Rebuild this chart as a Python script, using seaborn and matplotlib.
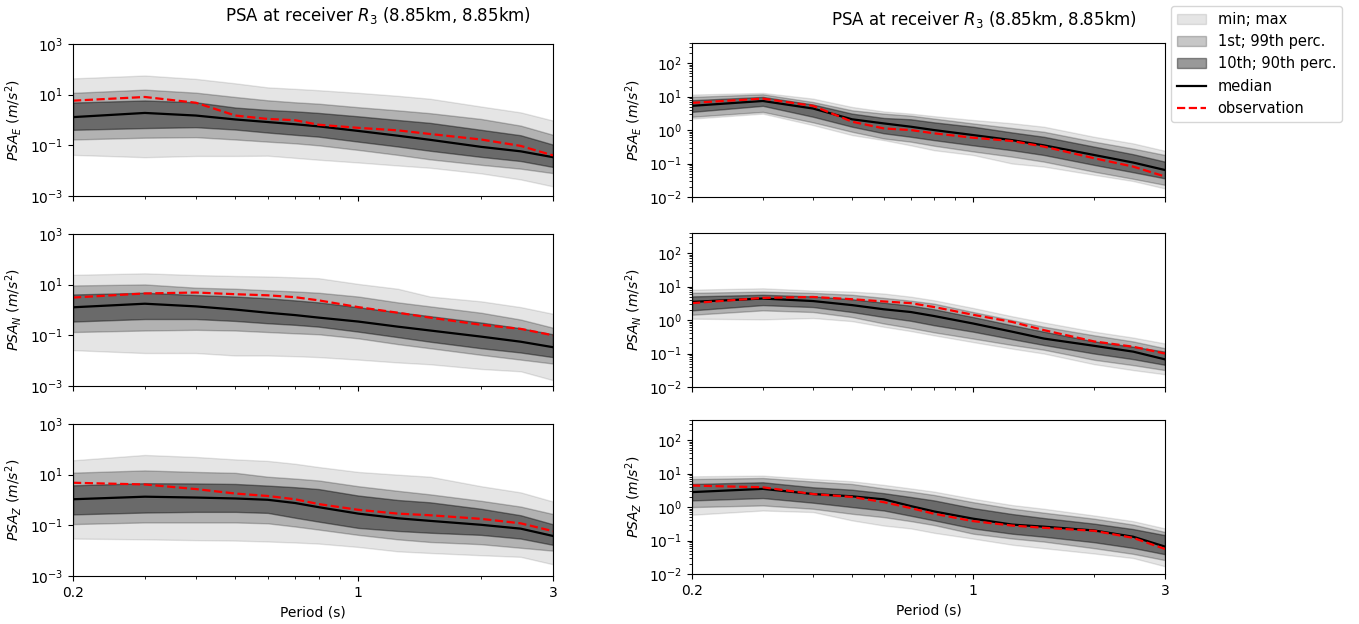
import matplotlib
matplotlib.use("Agg")
import matplotlib.pyplot as plt
import matplotlib.ticker as mticker
import numpy as np
import seaborn as sns

# periods (s) shared by every panel
period = [0.2, 0.3, 0.4, 0.5, 0.6, 0.7, 0.8, 1.0, 1.25, 1.5, 2.0, 2.5, 3.0]

# ---- left column ----
left_E_min = [0.042, 0.034, 0.038, 0.038, 0.039, 0.032, 0.027, 0.021, 0.016, 0.013, 0.0078, 0.0045, 0.0024]
left_E_max = [44, 57, 42, 28, 19.4, 17, 15, 11.8, 9, 6.9, 3.4, 2.0, 0.95]
left_E_p1 = [0.17, 0.20, 0.21, 0.17, 0.14, 0.12, 0.10, 0.066, 0.042, 0.028, 0.017, 0.012, 0.008]
left_E_p99 = [11.8, 15.8, 12, 8.1, 6, 5, 4.4, 3.2, 2.4, 1.86, 1.1, 0.6, 0.26]
left_E_p10 = [0.41, 0.48, 0.52, 0.42, 0.32, 0.26, 0.22, 0.14, 0.09, 0.061, 0.035, 0.024, 0.014]
left_E_p90 = [4.9, 5.9, 5.0, 3.1, 2.5, 2.2, 1.9, 1.4, 1.0, 0.77, 0.41, 0.25, 0.107]
left_E_median = [1.3, 1.9, 1.5, 1.05, 0.83, 0.68, 0.56, 0.37, 0.24, 0.165, 0.087, 0.058, 0.034]
left_E_obs = [5.8, 8.1, 4.8, 1.5, 1.1, 0.98, 0.65, 0.49, 0.39, 0.28, 0.17, 0.095, 0.04]

left_N_min = [0.026, 0.020, 0.020, 0.016, 0.016, 0.015, 0.0138, 0.011, 0.0085, 0.0072, 0.0047, 0.0038, 0.0017]
left_N_max = [24.5, 28, 24, 22, 21, 19.5, 18, 10.7, 6.9, 3.4, 2.2, 1.3, 0.71]
left_N_p1 = [0.135, 0.155, 0.165, 0.155, 0.135, 0.12, 0.11, 0.076, 0.045, 0.031, 0.017, 0.011, 0.0077]
left_N_p99 = [9.3, 10.2, 7.6, 6.9, 6.0, 5.4, 4.8, 3.4, 2.0, 1.39, 0.78, 0.42, 0.20]
left_N_p10 = [0.35, 0.44, 0.44, 0.37, 0.30, 0.26, 0.22, 0.14, 0.085, 0.056, 0.031, 0.021, 0.0138]
left_N_p90 = [4.1, 4.8, 3.9, 3.4, 2.9, 2.4, 2.0, 1.28, 0.82, 0.57, 0.32, 0.19, 0.11]
left_N_median = [1.28, 1.77, 1.39, 1.04, 0.78, 0.63, 0.50, 0.35, 0.22, 0.155, 0.089, 0.056, 0.034]
left_N_obs = [3.1, 4.5, 4.9, 4.2, 3.8, 3.2, 2.4, 1.3, 0.78, 0.50, 0.26, 0.18, 0.10]

left_Z_min = [0.030, 0.028, 0.026, 0.025, 0.023, 0.021, 0.019, 0.014, 0.0094, 0.0081, 0.0066, 0.0057, 0.0029]
left_Z_max = [37, 60, 50, 40, 35, 27, 20, 12.8, 10, 8.3, 3.5, 2.0, 0.87]
left_Z_p1 = [0.112, 0.13, 0.13, 0.13, 0.12, 0.09, 0.068, 0.042, 0.028, 0.022, 0.018, 0.013, 0.010]
left_Z_p99 = [12, 14.7, 12.8, 11.8, 8.3, 7, 5.9, 3.5, 2.3, 1.67, 0.93, 0.55, 0.28]
left_Z_p10 = [0.27, 0.32, 0.34, 0.34, 0.31, 0.2, 0.14, 0.079, 0.06, 0.051, 0.042, 0.03, 0.017]
left_Z_p90 = [3.8, 4.6, 4.5, 4.3, 3.7, 3.2, 2.7, 1.5, 1.0, 0.81, 0.45, 0.25, 0.11]
left_Z_median = [1.07, 1.35, 1.25, 1.15, 1.02, 0.76, 0.52, 0.29, 0.19, 0.15, 0.105, 0.074, 0.038]
left_Z_obs = [4.8, 4.1, 2.7, 1.8, 1.44, 1.07, 0.69, 0.41, 0.29, 0.25, 0.18, 0.12, 0.059]

# ---- right column ----
right_E_min = [2.2, 3.1, 1.41, 0.71, 0.50, 0.35, 0.25, 0.18, 0.1, 0.081, 0.046, 0.03, 0.018]
right_E_max = [11.5, 12.9, 8.7, 4.9, 3.6, 3.1, 2.6, 2.0, 1.6, 1.26, 0.63, 0.4, 0.24]
right_E_p1 = [2.5, 3.5, 1.7, 0.89, 0.56, 0.45, 0.34, 0.23, 0.16, 0.114, 0.057, 0.035, 0.023]
right_E_p99 = [9.8, 11.7, 6.9, 3.9, 3.1, 2.7, 2.2, 1.58, 1.15, 0.89, 0.45, 0.28, 0.18]
right_E_p10 = [3.5, 5.3, 2.5, 1.26, 0.8, 0.63, 0.5, 0.35, 0.25, 0.18, 0.091, 0.055, 0.036]
right_E_p90 = [7.8, 9.8, 5.8, 3.1, 2.3, 2.1, 1.7, 1.26, 0.85, 0.63, 0.32, 0.19, 0.114]
right_E_median = [5.3, 7.4, 4.4, 2.1, 1.58, 1.26, 1.0, 0.71, 0.50, 0.35, 0.18, 0.107, 0.064]
right_E_obs = [6.5, 8.7, 5.3, 1.78, 1.12, 1.0, 0.8, 0.59, 0.47, 0.32, 0.144, 0.081, 0.041]

right_N_min = [1.1, 1.05, 1.15, 0.93, 0.63, 0.47, 0.35, 0.22, 0.14, 0.10, 0.048, 0.032, 0.024]
right_N_max = [8.1, 8.9, 7.6, 7.1, 6.2, 5.0, 3.9, 2.3, 1.3, 0.85, 0.45, 0.3, 0.20]
right_N_p1 = [1.44, 1.95, 1.74, 1.23, 0.79, 0.58, 0.43, 0.28, 0.18, 0.13, 0.065, 0.045, 0.032]
right_N_p99 = [6.5, 7.1, 6.5, 5.7, 4.6, 3.8, 3.1, 1.74, 1.0, 0.63, 0.35, 0.23, 0.144]
right_N_p10 = [1.95, 2.8, 2.45, 1.74, 1.23, 0.95, 0.70, 0.45, 0.27, 0.18, 0.10, 0.068, 0.046]
right_N_p90 = [5.1, 5.7, 5.1, 4.2, 3.3, 2.7, 2.1, 1.23, 0.7, 0.45, 0.23, 0.16, 0.114]
right_N_median = [3.5, 4.4, 3.7, 2.8, 2.1, 1.74, 1.32, 0.79, 0.45, 0.28, 0.17, 0.114, 0.067]
right_N_obs = [3.2, 4.6, 4.9, 4.2, 3.6, 3.2, 2.45, 1.44, 0.88, 0.50, 0.23, 0.16, 0.10]

right_Z_min = [0.59, 0.79, 0.71, 0.40, 0.28, 0.23, 0.17, 0.114, 0.075, 0.059, 0.041, 0.03, 0.017]
right_Z_max = [8.3, 8.7, 6.9, 5.9, 4.6, 3.6, 2.9, 1.77, 1.15, 0.89, 0.56, 0.38, 0.23]
right_Z_p1 = [1.0, 1.12, 0.89, 0.63, 0.50, 0.38, 0.29, 0.16, 0.115, 0.093, 0.059, 0.04, 0.026]
right_Z_p99 = [6.9, 7.4, 5.8, 4.9, 3.6, 2.9, 2.3, 1.4, 0.9, 0.68, 0.45, 0.3, 0.18]
right_Z_p10 = [1.58, 1.86, 1.35, 1.0, 0.79, 0.55, 0.40, 0.23, 0.16, 0.13, 0.089, 0.06, 0.039]
right_Z_p90 = [4.9, 5.5, 3.9, 3.3, 2.6, 2.0, 1.58, 0.93, 0.62, 0.47, 0.32, 0.22, 0.145]
right_Z_median = [2.8, 3.5, 2.45, 2.1, 1.7, 1.07, 0.74, 0.45, 0.30, 0.26, 0.20, 0.13, 0.066]
right_Z_obs = [4.4, 3.9, 2.45, 2.0, 1.4, 0.93, 0.63, 0.38, 0.28, 0.24, 0.195, 0.12, 0.056]

components = ["E", "N", "Z"]
title = r"PSA at receiver $R_3$ (8.85km, 8.85km)"

panels = {
    "left": {
        "E": (left_E_min, left_E_max, left_E_p1, left_E_p99, left_E_p10, left_E_p90, left_E_median, left_E_obs),
        "N": (left_N_min, left_N_max, left_N_p1, left_N_p99, left_N_p10, left_N_p90, left_N_median, left_N_obs),
        "Z": (left_Z_min, left_Z_max, left_Z_p1, left_Z_p99, left_Z_p10, left_Z_p90, left_Z_median, left_Z_obs),
    },
    "right": {
        "E": (right_E_min, right_E_max, right_E_p1, right_E_p99, right_E_p10, right_E_p90, right_E_median, right_E_obs),
        "N": (right_N_min, right_N_max, right_N_p1, right_N_p99, right_N_p10, right_N_p90, right_N_median, right_N_obs),
        "Z": (right_Z_min, right_Z_max, right_Z_p1, right_Z_p99, right_Z_p10, right_Z_p90, right_Z_median, right_Z_obs),
    },
}

W, H = 1359, 624
fig = plt.figure(figsize=(W / 100, H / 100), dpi=100)

# axes boxes in pixels: (left, right, [(top, bottom) per row])
layout = {
    "left": (73, 553, [(44, 196), (234, 386), (424, 576)]),
    "right": (692, 1165, [(43, 197), (233, 387), (420, 574)]),
}


def px_box(x0, x1, y0, y1):
    return [x0 / W, 1 - y1 / H, (x1 - x0) / W, (y1 - y0) / H]


for col, (x0, x1, rows) in layout.items():
    for i, comp in enumerate(components):
        y0, y1 = rows[i]
        ax = fig.add_axes(px_box(x0, x1, y0, y1))
        ax.set_xscale("log")
        ax.set_yscale("log")
        vmin, vmax, p1, p99, p10, p90, med, obs = panels[col][comp]

        ax.fill_between(period, vmin, vmax, color="k", alpha=0.1, label="min; max")
        ax.fill_between(period, p1, p99, color="k", alpha=0.22, label="1st; 99th perc.")
        ax.fill_between(period, p10, p90, color="k", alpha=0.4, label="10th; 90th perc.")
        sns.lineplot(x=period, y=med, ax=ax, color="k", lw=1.6, label="median", legend=False)
        sns.lineplot(x=period, y=obs, ax=ax, color="red", lw=1.6, ls="--",
                     label="observation", legend=False)

        ax.set_xlim(0.2, 3)
        ax.xaxis.set_major_locator(mticker.FixedLocator([0.2, 1, 3]))
        ax.xaxis.set_major_formatter(mticker.FixedFormatter(["0.2", "1", "3"]))
        ax.xaxis.set_minor_locator(mticker.LogLocator(base=10, subs=np.arange(2, 10)))
        ax.xaxis.set_minor_formatter(mticker.NullFormatter())

        if col == "left":
            ax.set_ylim(1e-3, 1e3)
            ax.yaxis.set_major_locator(mticker.FixedLocator([1e-3, 1e-1, 1e1, 1e3]))
            ax.yaxis.set_minor_locator(mticker.NullLocator())
        else:
            ax.set_ylim(1e-2, 4e2)

        ax.set_ylabel(r"$PSA_%s$ $(m/s^2)$" % comp, fontsize=10)
        if i < 2:
            ax.tick_params(axis="x", which="both", labelbottom=False)
        else:
            ax.set_xlabel("Period (s)")

        if col == "left" and i == 0:
            handles, labels = ax.get_legend_handles_labels()

fig.text(378 / W, 1 - 16 / H, title, ha="center", va="center", fontsize=12)
fig.text(984 / W, 1 - 19 / H, title, ha="center", va="center", fontsize=12)

fig.legend(handles, labels, loc="upper left", bbox_to_anchor=(1171 / W, 1 - 6 / H),
           borderaxespad=0, fontsize=10.5)

fig.savefig("out.png", dpi=100)
